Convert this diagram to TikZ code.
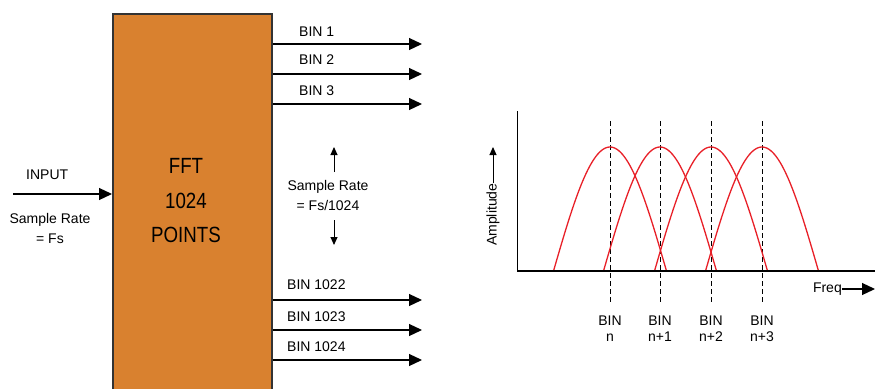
\documentclass[tikz,border=0pt]{standalone}
\usepackage{fontspec}
\setmainfont{Liberation Sans}
\newfontfamily\fftfont[FakeStretch=0.85]{Liberation Sans}
\usetikzlibrary{arrows.meta}
\definecolor{fftorange}{RGB}{217,129,47}
\definecolor{curvered}{RGB}{232,32,40}

\tikzset{
  bigtip/.style={-{Triangle[length=13pt,width=12pt]}, line width=1.2pt},
  smalltip/.style={-{Triangle[length=8pt,width=7pt]}, line width=1pt},
  fftbox/.style={draw=black!80, line width=2pt, fill=fftorange, anchor=north west,
    minimum width=159pt, minimum height=400pt, inner sep=0pt},
  fftlabel/.style={font=\fftfont\fontsize{22}{34}\selectfont, anchor=base, inner sep=0pt},
  binlabel/.style={anchor=base west, inner sep=0pt},
  twoline/.style={align=center, anchor=base, inner sep=0pt},
  peak/.style={curvered, line width=1.3pt},
  binmark/.style={dash pattern=on 5pt off 3pt, line width=1pt}
}

\begin{document}
\begin{tikzpicture}[x=1pt, y=-1pt, font=\fontsize{14}{20}\selectfont]
    \clip (0,0) rectangle (875,388);

    % FFT block
    \node[fftbox] (fft) at (112,13) {};
    \foreach \t/\y [count=\i] in {FFT/173, 1024/208, POINTS/242}
        \node[fftlabel] (fft\i) at (186,\y) {\t};

    % input side
    \coordinate (in) at (13,194);
    \draw[bigtip] (in) -- (fft.west |- in);
    \node[binlabel] (input) at (26,179) {INPUT};
    \node[twoline] (inrate) at (50,243) {Sample Rate\\= Fs};

    % output bins
    \foreach \n/\y/\b/\lx in {1/44/36/299, 2/74/64/299, 3/104/95/299,
                              1022/300/289/287, 1023/330/321/287, 1024/360/351/287} {
        \coordinate (bin\n) at (422,\y);
        \draw[bigtip] (fft.east |- bin\n) -- (bin\n);
        \node[binlabel] (binlab\n) at (\lx,\b) {BIN \n};
    }

    % output rate
    \node[twoline] (outrate) at (328,210) {Sample Rate\\= Fs/1024};
    \coordinate (uptip) at (334,147);
    \coordinate (dntip) at (334,245);
    \draw[smalltip] (334,172) -- (uptip);
    \draw[smalltip] (334,220) -- (dntip);

    % spectrum
    \foreach \c in {610,660,711,762}
        \draw[binmark] (\c,121) -- (\c,304);
    \foreach \c in {610,660,711,762}
        \draw[peak] plot[domain=-56.5:56.5, samples=60] ({\c+\x},{271-124*cos(90*\x/56.5)});
    \coordinate (origin) at (517,271);
    \draw[line width=1pt] (origin) -- (517,111);
    \draw[line width=2pt] (origin) -- (875,271);

    \node[rotate=90, anchor=west, inner sep=0pt] (amp) at (493,246) {Amplitude};
    \coordinate (amptip) at (493,147);
    \draw[smalltip] (amp.east) -- (amptip);

    \node[anchor=east, inner sep=0pt] (freq) at (842,289) {Freq};
    \coordinate (freqtip) at (875,289);
    \draw[bigtip] (freq.east) -- (freqtip);

    \foreach \c/\t [count=\i] in {610/n, 660/n+1, 711/n+2, 762/n+3}
        \node[twoline, font=\fontsize{14}{16}\selectfont] (binn\i) at (\c,341) {BIN\\\t};
\end{tikzpicture}
\end{document}
